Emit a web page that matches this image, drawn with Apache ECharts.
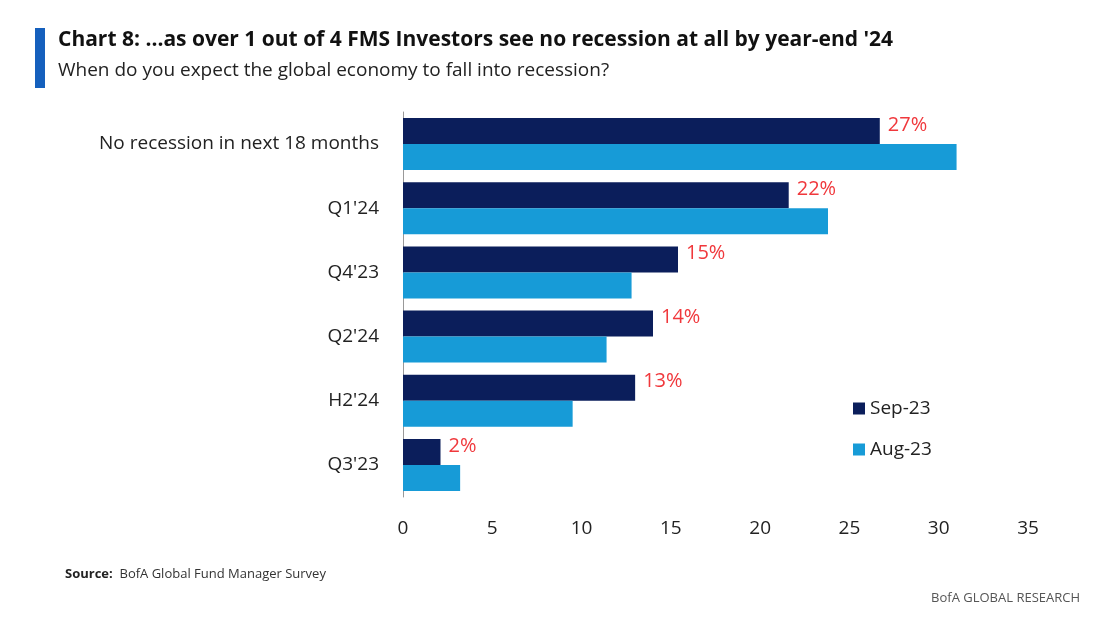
<!DOCTYPE html>
<html><head><meta charset="utf-8">
<script src="https://cdn.jsdelivr.net/npm/echarts@6/dist/echarts.min.js"></script>
<style>body{margin:0;background:#fff}#c{width:1100px;height:629px}</style>
</head><body><div id="c"></div>
<script>
let categories = ['No recession in next 18 months', "Q1'24", "Q4'23", "Q2'24", "H2'24", "Q3'23"];
let sep23 = [26.7, 21.6, 15.4, 14, 13, 2.1];
let aug23 = [31, 23.8, 12.8, 11.4, 9.5, 3.2];
let sepLabels = ['27%', '22%', '15%', '14%', '13%', '2%'];
let xTicks = [0, 35, 5];

let myChart = echarts.init(document.getElementById('c'));
let font = 'Open Sans';
let option = {
    textStyle:{ fontFamily:font },
    graphic:[
        { type:'rect', shape:{ x:35, y:28, width:10, height:60 }, style:{ fill:'#1560bd' } },
        { type:'text', left:58, top:30, style:{ text:'Chart 8: ...as over 1 out of 4 FMS Investors see no recession at all by year-end \'24', font:'bold 21px "Open Sans"', fill:'#111' } },
        { type:'text', left:58, top:61, style:{ text:'When do you expect the global economy to fall into recession?', font:'19px "Open Sans"', fill:'#222' } },
        { type:'text', left:65, top:568, style:{ rich:{ b:{ fontWeight:'bold', fontSize:13, fill:'#222', fontFamily:font }, n:{ fontSize:13, fill:'#333', fontFamily:font } }, text:'{b|Source:}{n|  BofA Global Fund Manager Survey}' } },
        { type:'text', right:20, top:592, style:{ text:'BofA GLOBAL RESEARCH', font:'13px "Open Sans"', fill:'#555' } }
    ],
    legend:{
        orient:'vertical', left:848, top:394, itemGap:22,
        itemWidth:12, itemHeight:12, icon:'rect',
        textStyle:{ fontSize:19, color:'#222', fontFamily:font },
        data:['Sep-23','Aug-23']
    },
    grid:{ left:403, right:72, top:112, bottom:132 },
    xAxis:{
        type:'value', min:xTicks[0], max:xTicks[1], interval:xTicks[2],
        axisLine:{ show:false }, axisTick:{ show:false }, splitLine:{ show:false },
        axisLabel:{ fontSize:19, color:'#222', margin:22 }
    },
    yAxis:{
        type:'category', inverse:true, data:categories,
        axisLine:{ show:true, lineStyle:{ color:'#999' } }, axisTick:{ show:false },
        axisLabel:{ fontSize:19, color:'#222', margin:24 }
    },
    series:[
        { name:'Sep-23', type:'bar', data:sep23, barWidth:26, barGap:'0%', itemStyle:{ color:'#0b1e5b' },
          label:{ show:true, position:'right', distance:8, fontSize:20, color:'#f0383c', offset:[0,-6],
                  formatter:(p)=>sepLabels[p.dataIndex] } },
        { name:'Aug-23', type:'bar', data:aug23, barWidth:26, barGap:'0%', itemStyle:{ color:'#179bd7' } }
    ]
};
myChart.setOption(option);
</script></body></html>
